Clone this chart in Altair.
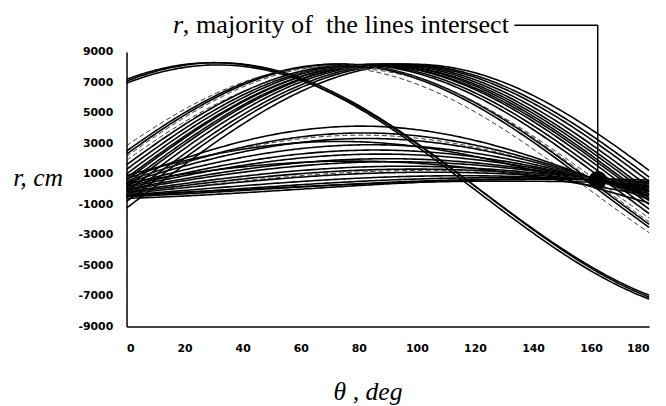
import altair as alt
import numpy as np
import pandas as pd

band_r0 = [6950, 7080, 7200]
band_r90 = [4250, 4320, 4120]

arch_r0 = [2500, 2300, 1600, 1300, 1000, 750, 600, 350, 150, -150, -500, -800, -1230]
arch_r90 = [7800, 7880, 8000, 8050, 8120, 8100, 8170, 8150, 8200, 8200, 8180, 8150, 8100]

faint_r0 = [2850, 2150, 1900, 560, -300]
faint_r90 = [7500, 7850, 7700, 3500, 1200]

flat_r0 = [672, 535, 423, 296, 187, 104, 8, -56, -151, -215, -285, -375, -486, 900, 400, -450, -350, -600]
flat_r90 = [4080, 3650, 3300, 2900, 2560, 2300, 2000, 1800, 1500, 1300, 1080, 800, 450, 3000, 1800, 600, 400, 350]

theta_ticks = [0, 20, 40, 60, 80, 100, 120, 140, 160, 180]
r_ticks = [-9000, -7000, -5000, -3000, -1000, 1000, 3000, 5000, 7000, 9000]

# point where the majority of the lines intersect, and its leader line
intersect_theta = [162.3]
intersect_r = [600]
leader_top_r = [10750]
leader_left_theta = [133.6]

annotation_r = "r"
annotation_rest = ", majority of\u00a0 the lines intersect"

theta_grid = np.arange(0, 181, 1)


def curves(r0s, r90s, group):
    rows = []
    for i, (a, b) in enumerate(zip(r0s, r90s)):
        rad = np.deg2rad(theta_grid)
        r = a * np.cos(rad) + b * np.sin(rad)
        for t, v in zip(theta_grid, r):
            rows.append({"theta": float(t), "r": float(v), "curve": f"{group}{i}"})
    return pd.DataFrame(rows)


solid_df = pd.concat([
    curves(band_r0, band_r90, "b"),
    curves(arch_r0, arch_r90, "a"),
    curves(flat_r0, flat_r90, "f"),
])
faint_df = curves(faint_r0, faint_r90, "d")

X = alt.X(
    "theta:Q",
    scale=alt.Scale(domain=[0, 180], nice=False),
    axis=alt.Axis(
        values=theta_ticks, ticks=False, grid=False, labelPadding=16,
        title="θ , deg", titleX=244, titleY=74, titleBaseline="alphabetic",
        titleAlign="center",
    ),
)
Y = alt.Y(
    "r:Q",
    scale=alt.Scale(domain=[-9000, 9000], nice=False),
    axis=alt.Axis(
        values=r_ticks, ticks=False, grid=False, labelPadding=14,
        labelExpr="'' + datum.value",
        title="r, cm", titleAngle=0, titleX=-90, titleY=127,
        titleAlign="center", titleBaseline="middle",
    ),
)

lines = alt.Chart(solid_df).mark_line(color="black", strokeWidth=1.6).encode(
    x=X, y=Y, detail="curve:N"
)
faint = alt.Chart(faint_df).mark_line(color="#333333", strokeWidth=1.0, strokeDash=[5, 3]).encode(
    x=X, y=Y, detail="curve:N"
)

dot_df = pd.DataFrame({"theta": intersect_theta, "r": intersect_r})
dot = alt.Chart(dot_df).mark_circle(size=340, color="black", opacity=1).encode(x=X, y=Y)

vert_df = pd.DataFrame({"theta": intersect_theta, "r": intersect_r, "r2": leader_top_r})
vert = alt.Chart(vert_df).mark_rule(color="black", strokeWidth=1.5).encode(
    x=X, y=Y, y2="r2:Q"
)
horiz_df = pd.DataFrame({"theta": leader_left_theta, "theta2": intersect_theta, "r": leader_top_r})
horiz = alt.Chart(horiz_df).mark_rule(color="black", strokeWidth=1.5).encode(
    x=X, x2="theta2:Q", y=Y
)

text_df = pd.DataFrame({"a": [annotation_r], "b": [annotation_rest]})
t1 = alt.Chart(text_df).mark_text(
    font="Liberation Serif", fontSize=26.5, fontStyle="italic", align="left", baseline="alphabetic"
).encode(text="a:N", x=alt.value(47), y=alt.value(-19))
t2 = alt.Chart(text_df).mark_text(
    font="Liberation Serif", fontSize=26.5, align="left", baseline="alphabetic"
).encode(text="b:N", x=alt.value(57), y=alt.value(-19))

chart = alt.layer(lines, faint, vert, horiz, dot, t1, t2).properties(
    width=529,
    height=278,
    autosize=alt.AutoSizeParams(type="none"),
    padding={"left": 120, "top": 42, "right": 9, "bottom": 78},
).configure_view(stroke=None).configure_axis(
    domainColor="black",
    domainWidth=1.5,
    labelFont="DejaVu Sans",
    labelFontWeight="bold",
    labelFontSize=11,
    labelColor="black",
    titleFont="Liberation Serif",
    titleFontSize=26,
    titleFontStyle="italic",
    titleFontWeight="normal",
    titleColor="black",
)

chart.save("out.html", embed_options={"renderer": "svg", "actions": False})
